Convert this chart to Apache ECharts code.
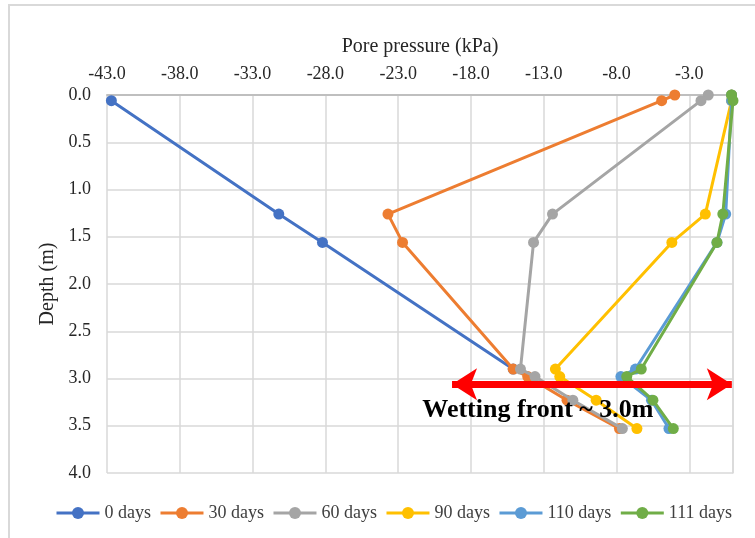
<!DOCTYPE html>
<html>
<head>
<meta charset="utf-8">
<script src="https://cdn.jsdelivr.net/npm/echarts@6/dist/echarts.min.js"></script>
<style>html,body{margin:0;padding:0;background:#fff}#c{width:755px;height:538px}</style>
</head>
<body>
<div id="c"></div>
<script>
const depths = [0.0, 0.06, 1.26, 1.56, 2.9, 2.98, 3.23, 3.53];
const seriesNames = ['0 days', '30 days', '60 days', '90 days', '110 days', '111 days'];
const days0   = [null, -42.7, -31.2, -28.2, -15.1, null, null, null];
const days30  = [-4.0, -4.9, -23.7, -22.7, -15.1, -14.1, -11.4, -7.8];
const days60  = [-1.7, -2.2, -12.4, -13.7, -14.6, -13.6, -11.0, -7.6];
const days90  = [-0.1, -0.1, -1.9, -4.2, -12.2, -11.9, -9.4, -6.6];
const days110 = [-0.1, -0.1, -0.5, -1.1, -6.7, -7.7, -5.6, -4.4];
const days111 = [-0.1, 0.0, -0.7, -1.1, -6.3, -7.3, -5.5, -4.1];
const colors = ['#4472C4', '#ED7D31', '#A5A5A5', '#FFC000', '#5B9BD5', '#70AD47'];
const wettingFrontDepth = [3.06];
const arrowRange = [-19.3, -0.08];
const annotationText = 'Wetting front ~ 3.0m';
const annotationPos = [-13.4, 3.34];

const allValues = [days0, days30, days60, days90, days110, days111];
const FONT = '"Liberation Serif", "Times New Roman", serif';

const chart = echarts.init(document.getElementById('c'), null, {renderer: 'canvas'});
const series = allValues.map((vals, i) => ({
  name: seriesNames[i],
  type: 'line',
  data: depths.map((d, k) => vals[k] == null ? null : [vals[k], d]).filter(p => p),
  symbol: 'circle',
  symbolSize: 11,
  showSymbol: true,
  lineStyle: {width: 3, color: colors[i]},
  itemStyle: {color: colors[i]},
  emphasis: {disabled: true},
  z: 2 + i
}));
series.push({
  name: 'arrow',
  type: 'line',
  data: [],
  silent: true,
  z: 20,
  markLine: {
    silent: true,
    animation: false,
    z: 20,
    symbol: ['arrow', 'arrow'],
    symbolSize: [24, 25],
    lineStyle: {color: '#FF0000', width: 7, type: 'solid'},
    label: {show: false},
    data: [[{coord: [arrowRange[0], wettingFrontDepth[0]]}, {coord: [arrowRange[1], wettingFrontDepth[0]]}]]
  }
});
series.push({
  name: 'annotationText',
  type: 'scatter',
  data: [],
  silent: true,
  z: 50,
  zlevel: 1,
  markPoint: {
    silent: true,
    animation: false,
    z: 50,
    symbol: 'circle',
    symbolSize: 1,
    itemStyle: {color: 'rgba(0,0,0,0)'},
    label: {show: true, position: 'inside', formatter: annotationText, color: '#000', fontFamily: FONT, fontWeight: 'bold', fontSize: 26},
    data: [{coord: annotationPos}]
  }
});

chart.setOption({
  animation: false,
  backgroundColor: '#fff',
  color: colors,
  graphic: [{
    type: 'rect', silent: true, z: -10,
    shape: {x: 9, y: 5, width: 780, height: 600},
    style: {fill: 'none', stroke: '#d9d9d9', lineWidth: 2}
  }],
  grid: {left: 107, right: 22, top: 95, bottom: 65, containLabel: false},
  legend: {
    data: seriesNames,
    left: 55,
    top: 504,
    padding: 0,
    itemWidth: 43,
    itemHeight: 15,
    itemGap: 8,
    lineStyle: {width: 3},
    textStyle: {fontFamily: FONT, fontSize: 18, color: '#404040'}
  },
  xAxis: {
    type: 'value',
    position: 'top',
    min: -43,
    max: 0,
    interval: 5,
    name: 'Pore pressure (kPa)',
    nameLocation: 'middle',
    nameGap: 38,
    nameTextStyle: {fontFamily: FONT, fontSize: 20, color: '#262626'},
    axisLine: {show: true, lineStyle: {color: '#bfbfbf', width: 2}},
    axisTick: {show: false},
    axisLabel: {fontFamily: FONT, fontSize: 18, color: '#262626', margin: 12, showMaxLabel: false,
      formatter: v => v.toFixed(1)},
    splitLine: {show: true, lineStyle: {color: '#d9d9d9', width: 1.5}}
  },
  yAxis: {
    type: 'value',
    inverse: true,
    min: 0,
    max: 4,
    interval: 0.5,
    name: 'Depth (m)',
    nameLocation: 'middle',
    nameGap: 48,
    nameTextStyle: {fontFamily: FONT, fontSize: 20, color: '#262626'},
    axisLine: {show: true, lineStyle: {color: '#d9d9d9', width: 1.5}},
    axisTick: {show: false},
    axisLabel: {fontFamily: FONT, fontSize: 18, color: '#262626', margin: 16,
      formatter: v => v.toFixed(1)},
    splitLine: {show: true, lineStyle: {color: '#d9d9d9', width: 1.5}}
  },
  series: series
});
</script>
</body>
</html>
